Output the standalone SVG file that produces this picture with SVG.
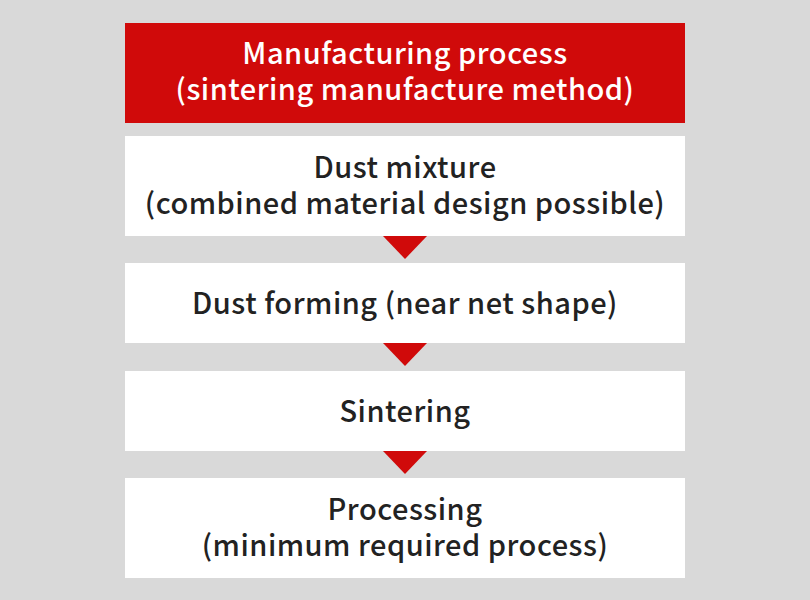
<svg xmlns="http://www.w3.org/2000/svg" width="810" height="600" viewBox="0 0 810 600">
<style>
.t{font-family:"Noto Sans CJK JP","Noto Sans",sans-serif;font-size:29px;font-weight:500;letter-spacing:0.5px;text-anchor:middle;fill:#222}
.h{fill:#fff}
.box{fill:#fff}
.arr{fill:#d00a0a}
</style>
<rect width="810" height="600" fill="#d9d9d9"/>
<g id="header">
<rect x="125" y="23" width="560" height="100" fill="#d00a0a"/>
<text class="t h" x="405" y="64">Manufacturing process</text>
<text class="t h" x="405" y="100">(sintering manufacture method)</text>
</g>
<g id="dust-mixture">
<rect class="box" x="125" y="136" width="560" height="100"/>
<text class="t" x="405" y="178">Dust mixture</text>
<text class="t" x="405" y="214">(combined material design possible)</text>
</g>
<g id="dust-forming">
<rect class="box" x="125" y="263" width="560" height="80"/>
<text class="t" x="405" y="314">Dust forming (near net shape)</text>
</g>
<g id="sintering">
<rect class="box" x="125" y="371" width="560" height="80"/>
<text class="t" x="405" y="422">Sintering</text>
</g>
<g id="processing">
<rect class="box" x="125" y="478" width="560" height="100"/>
<text class="t" x="405" y="520">Processing</text>
<text class="t" x="405" y="556">(minimum required process)</text>
</g>
<g id="connectors">
<polygon class="arr" points="383,236 427,236 405,259"/>
<polygon class="arr" points="383,343 427,343 405,366"/>
<polygon class="arr" points="383,451 427,451 405,474"/>
</g>
</svg>
